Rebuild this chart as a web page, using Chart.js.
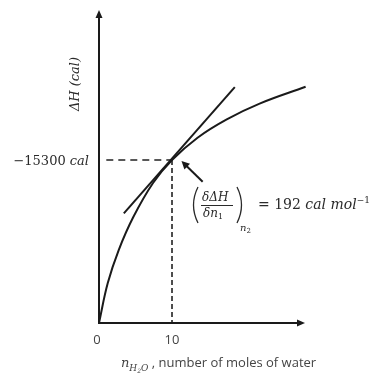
<!DOCTYPE html>
<html>
<head>
<meta charset="utf-8">
<script src="https://cdn.jsdelivr.net/npm/chart.js@4"></script>
<style>
body { margin: 0; background: #fff; }
#box { width: 374px; height: 374px; }
</style>
</head>
<body>
<div id="box"><canvas id="grafico"></canvas></div>
<script>
// Data
const molesWater = [0, 1.2, 2.7, 4.7, 7.4, 10, 13.5, 17.5, 22.0, 28.3];
const deltaH = [0, -3750, -6850, -9950, -13150, -15300, -17400, -19120, -20600, -22180];
const tangentX = [3.4, 18.6];
const tangentY = [-10300, -22150];
const guideX = [1.0, 10];
const guideY = [-15300, 0];
const xTicks = [0, 10];
const yTickValue = -15300;
const yTickLabel = ['\u221215300', 'cal'];
const arrowX = [14.2, 11.3];
const arrowY = [-13270, -15210];
const slopeValue = '192';

const ink = '#1a1a1a';
const textInk = '#2a2a2a';
const serif = '"DejaVu Serif", serif';
const sans = '"Open Sans", sans-serif';

// Draw a run of text pieces one after another
function drawRuns(ctx, x, y, runs) {
    runs.forEach(r => {
        ctx.font = r.font;
        ctx.fillText(r.text, x, y + (r.dy || 0));
        x += ctx.measureText(r.text).width;
    });
    return x;
}

function runsWidth(ctx, runs) {
    let w = 0;
    runs.forEach(r => {
        ctx.font = r.font;
        w += ctx.measureText(r.text).width;
    });
    return w;
}

function arrowHead(ctx, x1, y1, x2, y2, len, half) {
    const a = Math.atan2(y2 - y1, x2 - x1);
    ctx.beginPath();
    ctx.moveTo(x2, y2);
    ctx.lineTo(x2 - len * Math.cos(a) + half * Math.sin(a), y2 - len * Math.sin(a) - half * Math.cos(a));
    ctx.lineTo(x2 - len * Math.cos(a) - half * Math.sin(a), y2 - len * Math.sin(a) + half * Math.cos(a));
    ctx.closePath();
    ctx.fill();
}

const extras = {
    id: 'extras',
    afterDraw(chart) {
        const ctx = chart.ctx;
        const xs = chart.scales.x;
        const ys = chart.scales.y;
        const x0 = xs.getPixelForValue(0);
        const y0 = ys.getPixelForValue(0);
        ctx.save();

        // axes with arrows
        ctx.strokeStyle = ink;
        ctx.fillStyle = ink;
        ctx.lineWidth = 2;
        ctx.beginPath();
        ctx.moveTo(x0, y0 + 1);
        ctx.lineTo(x0, ys.top + 6);
        ctx.moveTo(x0 - 1, y0);
        ctx.lineTo(xs.right - 5, y0);
        ctx.stroke();
        arrowHead(ctx, x0, y0, x0, ys.top - 2, 8, 3.5);
        arrowHead(ctx, x0, y0, xs.right + 1, y0, 8, 3.5);

        // arrow pointing at the tangent point
        const ax1 = xs.getPixelForValue(arrowX[0]);
        const ay1 = ys.getPixelForValue(arrowY[0]);
        const ax2 = xs.getPixelForValue(arrowX[1]);
        const ay2 = ys.getPixelForValue(arrowY[1]);
        ctx.lineWidth = 2;
        ctx.beginPath();
        ctx.moveTo(ax1, ay1);
        ctx.lineTo(ax2 + (ax1 - ax2) * 0.25, ay2 + (ay1 - ay2) * 0.25);
        ctx.stroke();
        arrowHead(ctx, ax1, ay1, ax2, ay2, 8, 4);

        // x tick labels
        ctx.fillStyle = '#444';
        ctx.font = '13px ' + sans;
        ctx.textAlign = 'center';
        ctx.textBaseline = 'middle';
        xTicks.forEach(v => {
            ctx.fillText(String(v), xs.getPixelForValue(v) - (v === 0 ? 2 : 0), y0 + 17);
        });

        // y value label
        ctx.fillStyle = textInk;
        ctx.textAlign = 'left';
        ctx.textBaseline = 'alphabetic';
        const yRuns = [
            { text: yTickLabel[0] + ' ', font: '13px ' + serif },
            { text: yTickLabel[1], font: 'italic 13px ' + serif }
        ];
        const yw = runsWidth(ctx, yRuns);
        drawRuns(ctx, x0 - 10 - yw, ys.getPixelForValue(yTickValue) + 5, yRuns);

        // y axis title
        ctx.save();
        ctx.translate(76, 84);
        ctx.rotate(-Math.PI / 2);
        ctx.textAlign = 'center';
        ctx.textBaseline = 'middle';
        ctx.font = 'italic 13px ' + serif;
        ctx.fillText('\u0394H (cal)', 0, 0);
        ctx.restore();

        // x axis title
        ctx.fillStyle = '#444';
        drawRuns(ctx, 121, 367, [
            { text: 'n', font: 'italic 13px ' + serif },
            { text: 'H', font: 'italic 9px ' + serif, dy: 4 },
            { text: '2', font: 'italic 6px ' + serif, dy: 6 },
            { text: 'O', font: 'italic 9px ' + serif, dy: 4 },
            { text: ' , number of moles of water', font: '13px ' + sans }
        ]);

        // slope annotation
        ctx.fillStyle = textInk;
        ctx.strokeStyle = textInk;
        ctx.lineWidth = 1.3;
        ctx.beginPath();
        ctx.moveTo(198, 187);
        ctx.quadraticCurveTo(189, 205, 198, 223);
        ctx.moveTo(237, 187);
        ctx.quadraticCurveTo(246, 205, 237, 223);
        ctx.stroke();
        ctx.lineWidth = 1;
        ctx.beginPath();
        ctx.moveTo(201, 205.5);
        ctx.lineTo(233, 205.5);
        ctx.stroke();
        ctx.textAlign = 'left';
        drawRuns(ctx, 202, 201, [{ text: '\u03b4\u0394H', font: 'italic 12px ' + serif }]);
        drawRuns(ctx, 203, 217, [
            { text: '\u03b4n', font: 'italic 12px ' + serif },
            { text: '1', font: '8px ' + serif, dy: 2 }
        ]);
        drawRuns(ctx, 240, 231, [
            { text: 'n', font: 'italic 10px ' + serif },
            { text: '2', font: '7px ' + serif, dy: 2 }
        ]);
        drawRuns(ctx, 258, 209, [
            { text: '= ' + slopeValue + ' ', font: '14px ' + serif },
            { text: 'cal mol', font: 'italic 14px ' + serif },
            { text: '\u22121', font: '9px ' + serif, dy: -6 }
        ]);

        ctx.restore();
    }
};

const ctx = document.getElementById('grafico').getContext('2d');
const chart = new Chart(ctx, {
    type: 'line',
    data: {
        datasets: [
            {
                label: 'curve',
                data: molesWater.map((x, i) => ({ x: x, y: deltaH[i] })),
                borderColor: ink,
                borderWidth: 2,
                tension: 0.4,
                pointRadius: 0,
                clip: false
            },
            {
                label: 'tangent',
                data: tangentX.map((x, i) => ({ x: x, y: tangentY[i] })),
                borderColor: ink,
                borderWidth: 2,
                pointRadius: 0
            },
            {
                label: 'guide-h',
                data: [{ x: guideX[0], y: guideY[0] }, { x: guideX[1], y: guideY[0] }],
                borderColor: '#222',
                borderWidth: 1.6,
                borderDash: [7, 5],
                pointRadius: 0
            },
            {
                label: 'guide-v',
                data: [{ x: guideX[1], y: guideY[0] }, { x: guideX[1], y: guideY[1] }],
                borderColor: '#222',
                borderWidth: 1.6,
                borderDash: [5, 3],
                pointRadius: 0
            }
        ]
    },
    options: {
        responsive: true,
        maintainAspectRatio: false,
        animation: false,
        layout: { padding: { left: 99, right: 70, top: 12, bottom: 51 } },
        plugins: { legend: { display: false }, tooltip: { enabled: false } },
        scales: {
            x: { type: 'linear', min: 0, max: 28.08, display: false },
            y: { type: 'linear', min: -29200, max: 0, reverse: true, display: false }
        }
    },
    plugins: [extras]
});
</script>
</body>
</html>
